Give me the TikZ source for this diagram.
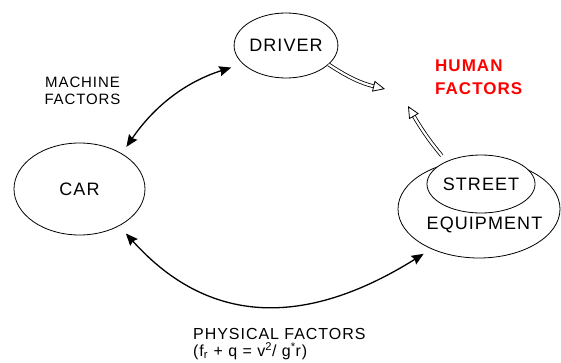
\documentclass[tikz,border=0pt]{standalone}
\usepackage{fontspec}
\setmainfont[LetterSpace=6]{Liberation Sans}
\usetikzlibrary{shapes.geometric,arrows.meta}
\begin{document}
\begin{tikzpicture}[x=1pt,y=1pt,
  bubble/.style={ellipse, draw, line width=0.8pt, inner sep=0pt, font=\fontsize{18}{20}\selectfont},
  lbl/.style={inner sep=0pt, font=\fontsize{18}{20}\selectfont},
  tipb/.tip={Stealth[length=12pt,width=10pt,inset=1.5pt]},
  link/.style={line width=1.3pt, tipb-tipb},
  dshaft/.style={draw=black, double=white, line width=0.8pt, double distance=2.2pt, shorten >=11.5pt},
  dtip/.style={white, line width=0.8pt, -{Triangle[open, color=black, fill=white, length=12pt, width=11pt, line width=0.8pt]}}
]
\useasboundingbox (0,0) rectangle (561,362);

% nodes
\node[bubble, minimum width=98pt, minimum height=65pt] (driver) at (286,316.5) {DRIVER};
\node[bubble, minimum width=131pt, minimum height=92pt] (car) at (79.5,173) {CAR};
\node[bubble, minimum width=162pt, minimum height=98pt] (equip) at (479,153) {};
\node[lbl] (equiptext) at (484.5,137) {EQUIPMENT};
\node[bubble, fill=white, minimum width=82pt, minimum height=58pt] (street) at (481,178) {STREET};

\node[inner sep=0pt, anchor=west, align=left, text=red, font=\fontsize{17}{22.5}\selectfont\bfseries] (human) at (435,284.75) {HUMAN\\FACTORS};
\node[inner sep=0pt, align=center, font=\fontsize{15}{16.5}\selectfont] (machine) at (82.5,271.25) {MACHINE\\FACTORS};
\node[inner sep=0pt, anchor=north west, align=left, font=\fontsize{16}{17}\selectfont] (physical) at (193,34) {PHYSICAL FACTORS\\(f\textsubscript{r}~+~q~=~v\textsuperscript{2}/~g\textsuperscript{*}r)};

\coordinate (hf1) at (385,273);
\coordinate (hf2) at (408,256);

% black double-headed arrows
\draw[link, shorten <=8pt, shorten >=12pt] (car.40) to[bend left=19] (driver.203);
\draw[link, shorten <=10pt, shorten >=9pt] (car.-43) to[out=-48,in=212,looseness=1.15] (equip.220);

% hollow arrows to human factors
\draw[dshaft] (driver.-24) to[bend right=10] (hf1);
\draw[dtip] (driver.-24) to[bend right=10] (hf1);
\draw[dshaft, shorten <=10pt] (equip.124) to[bend left=5] (hf2);
\draw[dtip, shorten <=10pt] (equip.124) to[bend left=5] (hf2);
\end{tikzpicture}
\end{document}
